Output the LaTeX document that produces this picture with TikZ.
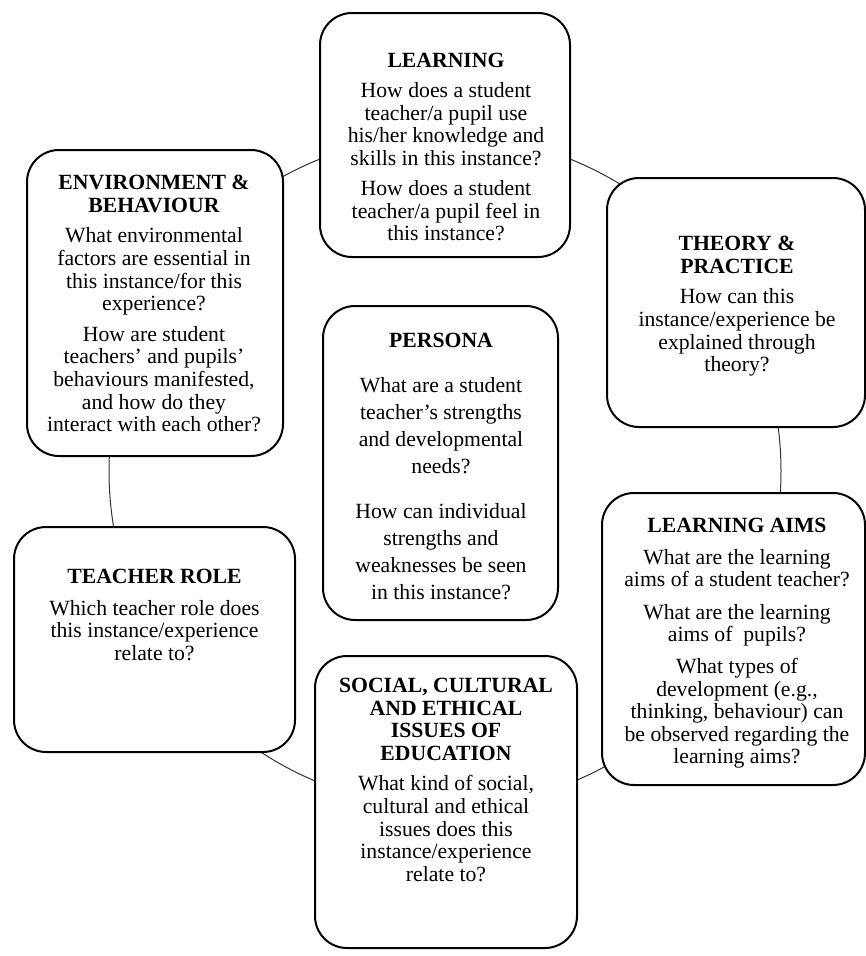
\documentclass[tikz,border=0pt]{standalone}
\usepackage{fontspec}
\setmainfont{Liberation Serif}
\begin{document}
\begin{tikzpicture}[x=1pt,y=-1pt,
  box/.style={draw=black, line width=2pt, fill=white, rounded corners=32pt, inner sep=0pt},
  txt/.style={align=center, inner sep=0pt, anchor=north, font=\fontsize{21.7pt}{22.6pt}\selectfont},
  ptxt/.style={align=center, inner sep=0pt, anchor=north, font=\fontsize{21.7pt}{27pt}\selectfont},
  ring/.style={draw=black!80, line width=1pt}]
\fill[white] (0,0) rectangle (866,956);
\useasboundingbox (0,0) rectangle (866,956);
% background cycle
\coordinate (ctr) at (445,471);
\draw[ring] (ctr) circle[radius=336];
% boxes
\node[box, minimum width=250pt, minimum height=244pt] (learn) at (445,135) {};
\node[box, minimum width=256pt, minimum height=306pt] (env) at (155,303) {};
\node[box, minimum width=258pt, minimum height=249pt] (theory) at (736,302.5) {};
\node[box, minimum width=235pt, minimum height=314pt] (persona) at (440.5,463) {};
\node[box, minimum width=281pt, minimum height=225pt] (teacher) at (154.5,639.5) {};
\node[box, minimum width=262pt, minimum height=292pt] (social) at (446,802) {};
\node[box, minimum width=263pt, minimum height=292pt] (aims) at (733.5,639) {};
% texts
\node[txt] (learnT) at (446,53) {\textbf{LEARNING}\\[7.5pt]
 How does a student\\ teacher/a pupil use\\ his/her knowledge and\\ skills in this instance?\\[7.5pt]
 How does a student\\ teacher/a pupil feel in\\ this instance?};
\node[txt] (envT) at (154,175) {\textbf{ENVIRONMENT \&}\\ \textbf{BEHAVIOUR}\\[8pt]
 What environmental\\ factors are essential in\\ this instance/for this\\ experience?\\[8pt]
 How are student\\ teachers' and pupils'\\ behaviours manifested,\\ and how do they\\ interact with each other?};
\node[txt] (theoryT) at (737,236) {\textbf{THEORY \&}\\ \textbf{PRACTICE}\\[8pt]
 How can this\\ instance/experience be\\ explained through\\ theory?};
\node[ptxt] (personaT) at (441,333) {\textbf{PERSONA}\\[18pt]
 What are a student\\ teacher's strengths\\ and developmental\\ needs?\\[18pt]
 How can individual\\ strengths and\\ weaknesses be seen\\ in this instance?};
\node[txt] (teacherT) at (154.5,569) {\textbf{TEACHER ROLE}\\[9pt]
 Which teacher role does\\ this instance/experience\\ relate to?};
\node[txt] (socialT) at (446,678) {\textbf{SOCIAL, CULTURAL}\\ \textbf{AND ETHICAL}\\ \textbf{ISSUES OF}\\ \textbf{EDUCATION}\\[8pt]
 What kind of social,\\ cultural and ethical\\ issues does this\\ instance/experience\\ relate to?};
\node[txt] (aimsT) at (737,518) {\textbf{LEARNING AIMS}\\[9pt]
 What are the learning\\ aims of a student teacher?\\[10pt]
 What are the learning\\ aims of~ pupils?\\[9pt]
 What types of\\ development (e.g.,\\ thinking, behaviour) can\\ be observed regarding the\\ learning aims?};
\end{tikzpicture}
\end{document}
